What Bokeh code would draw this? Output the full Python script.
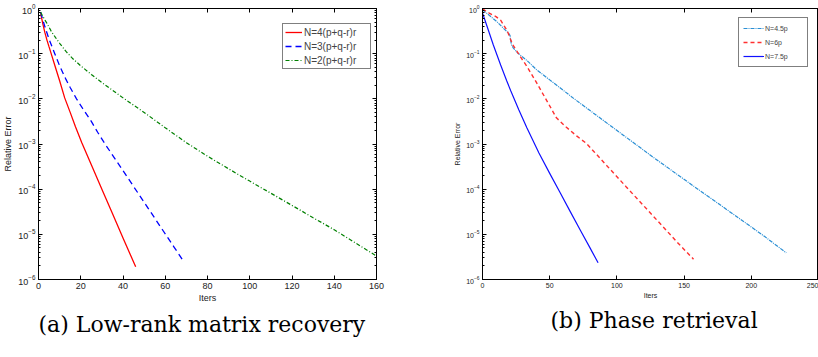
from bokeh.plotting import figure
from bokeh.models import (LinearAxis, LogAxis, Legend, LegendItem, Title, Range1d,
                          FixedTicker, CustomJSTickFormatter)
from bokeh.layouts import row
from bokeh.embed import file_html
from bokeh.resources import INLINE

# ---------------- data (a) low-rank matrix recovery ----------------
a_x_ticks = [0, 20, 40, 60, 80, 100, 120, 140, 160]

a_n4_iter = [1, 2, 3, 4, 5, 6, 8, 10, 12.4, 15, 17.5, 20.5, 25, 30, 35, 40, 46]
a_n4_err = [0.794, 0.468, 0.295, 0.200, 0.141, 0.100, 0.0501, 0.0251, 0.0105, 5.01e-3,
            2.40e-3, 1.07e-3, 3.47e-4, 1.00e-4, 2.88e-5, 8.32e-6, 1.91e-6]

a_n3_iter = [1, 3, 5, 7.7, 10, 13, 15, 18, 21, 25, 28, 31.5, 38, 45, 52, 59, 64, 69]
a_n3_err = [0.832, 0.398, 0.209, 0.100, 0.0537, 0.0269, 0.0178, 0.0100, 6.03e-3,
            3.16e-3, 1.82e-3, 1.00e-3, 3.55e-4, 1.15e-4, 3.72e-5, 1.20e-5, 5.37e-6, 2.40e-6]

a_n2_iter = [1, 2, 4, 6, 8, 10, 13, 16, 20, 25, 30, 35, 40, 50, 60, 70, 80, 90, 100,
             110, 120, 130, 140, 150, 160]
a_n2_err = [0.832, 0.676, 0.468, 0.316, 0.229, 0.170, 0.112, 0.0794, 0.0537, 0.0347,
            0.0229, 0.0155, 0.0105, 5.01e-3, 2.29e-3, 1.07e-3, 5.37e-4, 2.82e-4, 1.51e-4,
            8.13e-5, 4.37e-5, 2.34e-5, 1.26e-5, 6.46e-6, 3.31e-6]

# ---------------- data (b) phase retrieval ----------------
b_x_ticks = [0, 50, 100, 150, 200, 250]

b_n45_iter = [0, 5, 11, 15, 19.5, 20.5, 21.5, 23, 26, 33, 40, 50, 60, 70, 80, 95, 105,
              116, 125, 140, 157, 175, 194, 210, 226]
b_n45_err = [0.933, 0.708, 0.501, 0.380, 0.282, 0.251, 0.158, 0.132, 0.105, 0.0708,
             0.0447, 0.0263, 0.0155, 9.12e-3, 5.50e-3, 2.57e-3, 1.55e-3, 8.91e-4,
             5.62e-4, 2.69e-4, 1.17e-4, 4.90e-5, 1.95e-5, 8.91e-6, 3.89e-6]

b_n6_iter = [0, 5, 10, 13.5, 16, 18.5, 20.5, 22.5, 24, 28, 33, 40, 48, 55, 62, 70, 77,
             83, 95, 107, 120, 134, 145, 157]
b_n6_err = [0.977, 0.794, 0.661, 0.550, 0.417, 0.316, 0.219, 0.158, 0.135, 0.0871,
            0.0525, 0.0234, 8.91e-3, 3.80e-3, 2.40e-3, 1.51e-3, 1.05e-3, 6.76e-4,
            2.75e-4, 1.12e-4, 4.27e-5, 1.51e-5, 6.61e-6, 2.82e-6]

b_n75_iter = [0, 4, 8, 13.5, 18, 21, 27, 33, 42, 50, 58, 65, 73, 80, 86]
b_n75_err = [0.794, 0.355, 0.158, 0.0562, 0.0251, 0.0151, 5.75e-3, 2.29e-3, 6.31e-4,
             2.24e-4, 8.13e-5, 3.31e-5, 1.20e-5, 5.01e-6, 2.34e-6]

y_decades = [1e-6, 1e-5, 1e-4, 1e-3, 1e-2, 1e-1, 1e0]
y_minor = [m * 10.0 ** e for e in range(-6, 0) for m in range(2, 10)]

FONT = "Liberation Sans"
CAP_FONT = "DejaVu Serif"


def blank():
    return CustomJSTickFormatter(code="return ''")


def style(ax, fs):
    ax.major_tick_in = 4
    ax.major_tick_out = 0
    ax.minor_tick_in = 2
    ax.minor_tick_out = 0
    ax.axis_line_color = "black"
    ax.major_tick_line_color = "black"
    ax.minor_tick_line_color = "black"
    ax.major_label_text_font = FONT
    ax.major_label_text_font_size = fs
    ax.major_label_text_color = "#222222"
    ax.axis_label_text_font = FONT
    ax.axis_label_text_font_size = fs
    ax.axis_label_text_font_style = "normal"
    ax.axis_label_text_color = "#222222"


def make_fig(width, xmax, xticks, bl, br, bt, bb, fs, right_axis):
    p = figure(width=width, height=357, y_axis_type="log",
               x_range=Range1d(0, xmax), y_range=Range1d(1e-6, 1),
               output_backend="svg", toolbar_location=None,
               min_border_left=bl, min_border_right=br,
               min_border_top=bt, min_border_bottom=bb)
    p.grid.visible = False
    p.outline_line_color = "black"
    p.background_fill_color = "white"
    p.border_fill_color = "white"

    xa = p.xaxis[0]
    xa.ticker = FixedTicker(ticks=xticks)
    style(xa, fs)
    xa.minor_tick_line_color = None
    xa.axis_label = "Iters"
    xa.major_label_standoff = 3
    xa.axis_label_standoff = 1

    ya = p.yaxis[0]
    ya.ticker = FixedTicker(ticks=y_decades, minor_ticks=y_minor)
    style(ya, fs)
    ya.axis_label = "Relative Error"
    ya.major_label_standoff = 3
    ya.axis_label_standoff = 2

    top = LinearAxis(ticker=FixedTicker(ticks=xticks), formatter=blank(),
                     major_label_standoff=0)
    style(top, "1px")
    top.minor_tick_line_color = None
    p.add_layout(top, "above")

    if right_axis:
        ra = LogAxis(ticker=FixedTicker(ticks=y_decades, minor_ticks=y_minor),
                     formatter=blank(), major_label_standoff=0)
        style(ra, "1px")
        p.add_layout(ra, "right")
    return p


# ---------- (a) ----------
p1 = make_fig(405, 160, a_x_ticks, 37, 29, 8, 76, "9px", True)
r1 = p1.line(a_n4_iter, a_n4_err, line_color="#ff0000", line_width=1.3)
r2 = p1.line(a_n3_iter, a_n3_err, line_color="#0000ff", line_width=1.3, line_dash="6 4")
r3 = p1.line(a_n2_iter, a_n2_err, line_color="#008000", line_width=1.2, line_dash="4 2 1 2")
leg1 = Legend(items=[LegendItem(label="N=4(p+q-r)r", renderers=[r1]),
                     LegendItem(label="N=3(p+q-r)r", renderers=[r2]),
                     LegendItem(label="N=2(p+q-r)r", renderers=[r3])],
              location=(244, 210), border_line_color="black", border_line_width=1,
              padding=2, spacing=2, glyph_height=12, glyph_width=17, label_height=12,
              label_width=64, label_standoff=2, label_text_font=FONT,
              label_text_font_size="10px", margin=0, background_fill_alpha=1.0)
p1.add_layout(leg1)
p1.add_layout(Title(text="(a) Low-rank matrix recovery", align="left", offset=0,
                    text_font=CAP_FONT, text_font_size="22px", text_font_style="normal",
                    text_color="black", standoff=9), "below")

# ---------- (b) ----------
p2 = make_fig(413, 250, b_x_ticks, 77, 0, 6, 78, "7px", False)
s1 = p2.line(b_n45_iter, b_n45_err, line_color="#2b8fd4", line_width=1.2, line_dash="4 1 1 1")
s2 = p2.line(b_n6_iter, b_n6_err, line_color="#ff3030", line_width=1.4, line_dash="4 3")
s3 = p2.line(b_n75_iter, b_n75_err, line_color="#1010ff", line_width=1.2)
leg2 = Legend(items=[LegendItem(label="N=4.5p", renderers=[s1]),
                     LegendItem(label="N=6p", renderers=[s2]),
                     LegendItem(label="N=7.5p", renderers=[s3])],
              location=(256, 212), border_line_color="black", border_line_width=1,
              padding=4, spacing=2, glyph_height=12, glyph_width=21, label_height=12,
              label_width=38, label_standoff=1, label_text_font=FONT,
              label_text_font_size="7px", margin=0, background_fill_alpha=1.0)
p2.add_layout(leg2)
p2.add_layout(Title(text="(b) Phase retrieval", align="left", offset=68,
                    text_font=CAP_FONT, text_font_size="22px", text_font_style="normal",
                    text_color="black", standoff=9), "below")

layout = row(p1, p2)
open("out.html", "w").write(file_html(layout, INLINE))
